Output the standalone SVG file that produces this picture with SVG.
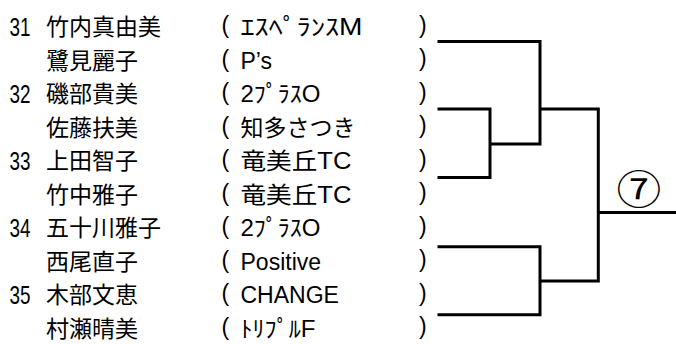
<svg xmlns="http://www.w3.org/2000/svg" width="676" height="344" viewBox="0 0 676 344">
<style>
text{font-family:"Liberation Sans","Noto Sans CJK JP",sans-serif;font-size:23px;fill:#000}
.cjk{font-family:"Noto Sans CJK JP","Liberation Sans",sans-serif}
.num{font-size:25px}
.ln{stroke:#000;stroke-width:3;fill:none;stroke-linecap:square}
</style>
<rect width="676" height="344" fill="#fff"/>
<g id="row1"><text class="num" x="9.5" y="35.5" textLength="21" lengthAdjust="spacingAndGlyphs">31</text><text class="cjk" x="46" y="35">竹内真由美</text><text x="221.5" y="33">(</text><text x="240.5" y="35" textLength="122" lengthAdjust="spacingAndGlyphs">ｴｽﾍﾟﾗﾝｽM</text><text x="419" y="32.5">)</text></g>
<g id="row2"><text class="cjk" x="46" y="68.5">鷺見麗子</text><text x="221.5" y="66.5">(</text><text x="240.5" y="68.5">P’s</text><text x="419" y="66">)</text></g>
<g id="row3"><text class="num" x="9.5" y="102.5" textLength="21" lengthAdjust="spacingAndGlyphs">32</text><text class="cjk" x="46" y="102">磯部貴美</text><text x="221.5" y="100">(</text><text x="240.5" y="102" textLength="80" lengthAdjust="spacingAndGlyphs">2ﾌﾟﾗｽO</text><text x="419" y="99.5">)</text></g>
<g id="row4"><text class="cjk" x="46" y="135.5">佐藤扶美</text><text x="221.5" y="133.5">(</text><text class="cjk" x="240.5" y="135.5">知多さつき</text><text x="419" y="133">)</text></g>
<g id="row5"><text class="num" x="9.5" y="169.5" textLength="21" lengthAdjust="spacingAndGlyphs">33</text><text class="cjk" x="46" y="169">上田智子</text><text x="221.5" y="167">(</text><text x="240.5" y="169" textLength="111" lengthAdjust="spacingAndGlyphs">竜美丘TC</text><text x="419" y="166.5">)</text></g>
<g id="row6"><text class="cjk" x="46" y="202.5">竹中雅子</text><text x="221.5" y="200.5">(</text><text x="240.5" y="202.5" textLength="111" lengthAdjust="spacingAndGlyphs">竜美丘TC</text><text x="419" y="200">)</text></g>
<g id="row7"><text class="num" x="9.5" y="236.5" textLength="21" lengthAdjust="spacingAndGlyphs">34</text><text class="cjk" x="46" y="236">五十川雅子</text><text x="221.5" y="234">(</text><text x="240.5" y="236" textLength="80" lengthAdjust="spacingAndGlyphs">2ﾌﾟﾗｽO</text><text x="419" y="233.5">)</text></g>
<g id="row8"><text class="cjk" x="46" y="269.5">西尾直子</text><text x="221.5" y="267.5">(</text><text x="240.5" y="269.5">Positive</text><text x="419" y="267">)</text></g>
<g id="row9"><text class="num" x="9.5" y="303.5" textLength="21" lengthAdjust="spacingAndGlyphs">35</text><text class="cjk" x="46" y="303">木部文恵</text><text x="221.5" y="301">(</text><text x="240.5" y="303">CHANGE</text><text x="419" y="300.5">)</text></g>
<g id="row10"><text class="cjk" x="46" y="336.5">村瀬晴美</text><text x="221.5" y="334.5">(</text><text x="240.5" y="336.5" textLength="75" lengthAdjust="spacingAndGlyphs">ﾄﾘﾌﾟﾙF</text><text x="419" y="334">)</text></g>
<g id="connectors">
<path class="ln" d="M439 41.5H540V144M439 109H490V177.5H439M490 144H540M540 109H598.3V281H540M439 246.7H540V314.7H439M598.3 212.5H676"/>
</g>
<g id="match7"><text class="cjk" transform="translate(639 0) scale(1.12 1)" x="0" y="204" text-anchor="middle" style="font-size:40px">⑦</text></g>
</svg>
